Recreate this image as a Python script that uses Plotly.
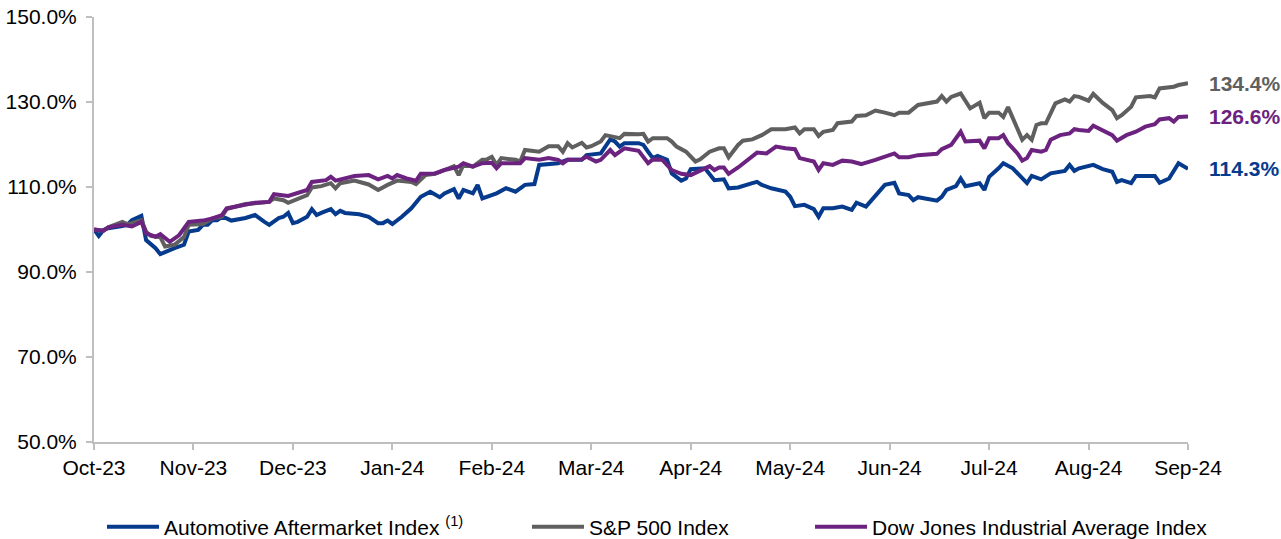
import plotly.graph_objects as go

# Trading-day index (0 = start of Oct-23, 231 = Sep-24 label) and indexed performance (%)
month_labels = ["Oct-23", "Nov-23", "Dec-23", "Jan-24", "Feb-24", "Mar-24",
                "Apr-24", "May-24", "Jun-24", "Jul-24", "Aug-24", "Sep-24"]
month_ticks = [0, 21, 42, 63, 84, 105, 126, 147, 168, 189, 210, 231]

auto_days = [0, 1, 2, 3, 6, 7, 8, 10, 11, 12, 13, 14, 16, 17, 19, 20, 22, 23, 24, 25, 26, 27, 28, 29,
             32, 34, 36, 37, 39, 40, 41, 42, 43, 45, 46, 47, 48, 50, 51, 52, 53, 56, 58, 60, 61, 62,
             63, 65, 67, 69, 71, 73, 74, 76, 77, 78, 80, 81, 82, 84, 85, 87, 89, 91, 93, 94, 98, 100,
             103, 104, 107, 109, 110, 111, 112, 115, 116, 117, 118, 119, 121, 122, 124, 125, 126, 129,
             130, 131, 133, 134, 136, 138, 139, 140, 141, 143, 146, 147, 148, 150, 152, 153, 154, 156,
             158, 160, 161, 163, 165, 167, 169, 170, 172, 173, 174, 178, 179, 180, 182, 183, 184, 187,
             188, 189, 191, 192, 194, 196, 197, 198, 200, 202, 205, 206, 207, 208, 211, 213, 215, 216,
             217, 219, 220, 224, 225, 227, 228, 229, 231]
auto_aftermarket = [100.0, 98.5, 99.9, 100.3, 100.8, 101.1, 102.2, 103.2, 97.5, 96.6, 95.6, 94.2, 95.2,
                    95.6, 96.4, 99.5, 99.9, 101.1, 101.1, 102.2, 102.2, 103.0, 102.6, 102.1, 102.7, 103.4,
                    101.8, 101.1, 102.7, 103.0, 103.9, 101.5, 101.8, 103.0, 104.8, 103.4, 103.9, 104.8,
                    103.6, 104.4, 103.9, 103.6, 103.0, 101.5, 101.5, 102.1, 101.3, 103.0, 105.0, 107.7,
                    108.9, 107.6, 108.5, 109.5, 107.3, 109.3, 108.5, 110.5, 107.3, 108.1, 108.5, 109.7,
                    108.9, 110.5, 110.7, 115.2, 115.6, 116.4, 116.4, 117.5, 117.9, 121.2, 120.7, 119.5,
                    120.3, 120.3, 119.9, 118.3, 116.8, 117.3, 116.4, 113.2, 111.5, 112.0, 114.2, 114.4,
                    112.8, 111.6, 111.8, 109.7, 109.9, 110.7, 110.9, 111.2, 110.5, 109.7, 108.9, 107.7,
                    105.5, 105.8, 104.8, 103.0, 105.0, 105.0, 105.4, 104.6, 106.3, 105.4, 108.1, 110.5,
                    111.0, 108.5, 108.1, 106.9, 107.6, 106.8, 107.7, 109.3, 110.2, 112.0, 110.2, 110.9,
                    109.3, 112.4, 114.4, 115.6, 114.4, 112.0, 110.9, 112.6, 111.8, 113.2, 113.8, 115.2,
                    113.8, 114.4, 115.2, 114.2, 113.6, 111.2, 111.6, 110.9, 112.6, 112.6, 111.0, 112.0,
                    113.6, 115.6, 114.3]

sp_days = [0, 2, 3, 6, 7, 8, 10, 11, 12, 14, 15, 17, 19, 20, 23, 25, 27, 28, 30, 32, 34, 37, 38, 40, 41,
           43, 45, 46, 48, 50, 51, 52, 55, 58, 60, 62, 64, 67, 68, 70, 72, 74, 76, 77, 78, 80, 82, 83, 84,
           85, 86, 89, 90, 91, 94, 96, 98, 99, 100, 101, 103, 104, 105, 107, 108, 111, 112, 115, 116, 117,
           118, 121, 122, 123, 125, 127, 128, 130, 132, 133, 134, 136, 137, 139, 141, 143, 146, 148, 149,
           150, 152, 153, 154, 156, 157, 160, 161, 163, 165, 167, 169, 170, 172, 174, 177, 178, 179, 180,
           181, 183, 185, 187, 188, 189, 191, 192, 193, 194, 195, 196, 197, 198, 199, 200, 201, 202, 203,
           205, 206, 207, 208, 210, 211, 213, 215, 216, 217, 219, 220, 223, 224, 225, 227, 228, 229, 231]
sp500 = [100.0, 99.7, 100.5, 101.8, 101.3, 101.5, 102.2, 99.5, 98.5, 98.2, 96.0, 96.4, 98.2, 101.1, 101.3,
         102.6, 103.0, 104.8, 105.4, 106.0, 106.2, 106.5, 107.3, 106.9, 106.3, 107.3, 108.1, 109.9, 110.2,
         110.9, 109.7, 110.9, 111.5, 110.6, 109.3, 110.5, 111.5, 111.2, 110.7, 112.8, 113.1, 114.0, 114.9,
         112.8, 115.2, 114.8, 116.4, 116.5, 117.1, 115.2, 116.8, 116.4, 116.0, 118.7, 118.3, 119.6, 119.6,
         118.3, 120.3, 119.3, 120.4, 119.3, 119.6, 120.7, 122.2, 121.5, 122.5, 122.4, 122.5, 120.7, 121.5,
         121.5, 120.7, 119.5, 118.3, 116.0, 116.5, 118.3, 119.1, 119.1, 117.0, 119.9, 120.9, 121.2, 122.2,
         123.6, 123.6, 124.0, 122.6, 123.6, 123.6, 122.0, 123.0, 123.4, 125.0, 125.4, 126.7, 126.9, 128.0,
         127.5, 126.9, 127.5, 127.5, 129.3, 129.8, 130.1, 131.4, 130.1, 131.2, 132.0, 128.5, 129.8, 126.2,
         127.5, 127.5, 126.5, 128.8, 126.2, 123.8, 121.1, 122.2, 121.1, 124.6, 125.0, 125.0, 127.3, 129.7,
         130.6, 130.1, 131.4, 131.2, 130.3, 131.9, 129.8, 128.1, 126.2, 126.9, 128.9, 131.1, 131.4, 131.1,
         133.2, 133.5, 133.6, 134.0, 134.4]

dow_days = [0, 2, 3, 6, 8, 10, 11, 13, 14, 16, 18, 20, 23, 25, 27, 28, 30, 34, 37, 38, 41, 43, 45, 46, 49,
            50, 51, 55, 58, 60, 62, 63, 64, 66, 68, 69, 72, 74, 77, 78, 80, 82, 84, 85, 86, 90, 91, 94, 96,
            98, 99, 100, 103, 104, 106, 107, 109, 110, 112, 115, 116, 117, 118, 120, 122, 124, 126, 128,
            130, 131, 132, 133, 134, 136, 138, 140, 142, 144, 146, 148, 149, 152, 153, 154, 156, 158, 160,
            162, 165, 169, 170, 172, 174, 178, 179, 181, 183, 184, 187, 188, 189, 191, 192, 193, 195, 196,
            197, 198, 200, 201, 202, 204, 206, 207, 208, 210, 211, 213, 215, 216, 218, 220, 222, 224, 225,
            227, 228, 229, 231]
dow_jones = [100.0, 99.7, 100.5, 101.1, 100.7, 101.8, 99.1, 98.3, 98.9, 97.1, 98.7, 101.8, 102.1, 102.6,
             103.4, 105.0, 105.4, 106.3, 106.5, 108.3, 107.9, 108.7, 109.3, 111.2, 111.6, 112.4, 111.5,
             112.6, 112.8, 111.8, 112.6, 112.0, 112.8, 112.0, 111.5, 113.1, 113.2, 114.0, 114.8, 115.6,
             114.8, 115.6, 115.7, 114.4, 115.6, 115.6, 116.8, 116.4, 116.8, 116.4, 115.6, 116.4, 116.5,
             117.1, 116.0, 116.4, 118.7, 117.5, 119.1, 118.5, 117.1, 115.6, 116.5, 116.4, 114.0, 113.1,
             112.8, 113.8, 114.9, 114.0, 114.6, 114.6, 113.1, 114.6, 116.4, 118.1, 117.9, 119.5, 119.1,
             118.9, 116.8, 116.0, 114.0, 115.6, 115.2, 116.2, 116.0, 115.4, 116.4, 117.9, 117.0, 117.0,
             117.5, 117.8, 118.9, 119.9, 123.0, 120.7, 120.9, 119.1, 121.5, 121.5, 122.2, 120.3, 117.9,
             116.2, 116.8, 118.7, 118.3, 118.7, 121.1, 122.2, 122.6, 123.6, 123.4, 123.2, 124.4, 123.4,
             122.2, 120.9, 122.2, 123.0, 124.2, 124.8, 125.9, 126.2, 125.4, 126.5, 126.6]

y_ticks = [50, 70, 90, 110, 130, 150]

series = [
    ("Automotive Aftermarket Index&nbsp;<sup>(1)</sup>", auto_days, auto_aftermarket, "#063A8C", "legend"),
    ("S&P 500 Index", sp_days, sp500, "#5F5F5F", "legend2"),
    ("Dow Jones Industrial Average Index", dow_days, dow_jones, "#6C2380", "legend3"),
]

FONT = "Arial, 'Liberation Sans', sans-serif"
FS = 21

fig = go.Figure()
for name, xs, ys, col, leg in series:
    fig.add_trace(go.Scatter(x=xs, y=ys, mode="lines", name=name, legend=leg,
                             line=dict(color=col, width=4), hoverinfo="skip"))
    fig.add_annotation(x=xs[-1], y=ys[-1], xref="x", yref="y",
                       text=f"<b>{ys[-1]:.1f}%</b>", showarrow=False,
                       xanchor="left", yanchor="middle", xshift=19,
                       font=dict(family=FONT, size=FS, color=col))

leg_common = dict(orientation="h", xanchor="left", y=-0.2, yanchor="middle",
                  font=dict(family=FONT, size=FS, color="black"),
                  itemwidth=52, bgcolor="rgba(0,0,0,0)")

fig.update_layout(
    width=1281, height=539,
    margin=dict(l=94, r=93, t=17, b=97, autoexpand=False),
    paper_bgcolor="white", plot_bgcolor="white",
    font=dict(family=FONT, size=FS, color="black"),
    showlegend=True,
    legend=dict(x=0.0073, **leg_common),
    legend2=dict(x=0.3958, **leg_common),
    legend3=dict(x=0.6545, **leg_common),
)
fig.update_xaxes(range=[0, 231], tickmode="array", tickvals=month_ticks, ticktext=month_labels,
                 showline=True, linecolor="#BFBFBF", linewidth=2, ticks="outside",
                 ticklen=6, tickcolor="#BFBFBF", tickwidth=2, showgrid=False, zeroline=False,
                 automargin=False, tickfont=dict(family=FONT, size=FS, color="black"))
fig.update_yaxes(range=[50, 150], tickmode="array", tickvals=y_ticks,
                 ticktext=[f"{v:.1f}%" for v in y_ticks],
                 showline=True, linecolor="#BFBFBF", linewidth=2, ticks="outside",
                 ticklen=6, tickcolor="#BFBFBF", tickwidth=2, showgrid=False, zeroline=False,
                 ticklabelstandoff=5,
                 automargin=False, tickfont=dict(family=FONT, size=FS, color="black"))

fig.write_html("out.html", config={"displayModeBar": False},
               post_script="document.body.style.margin='0';")
